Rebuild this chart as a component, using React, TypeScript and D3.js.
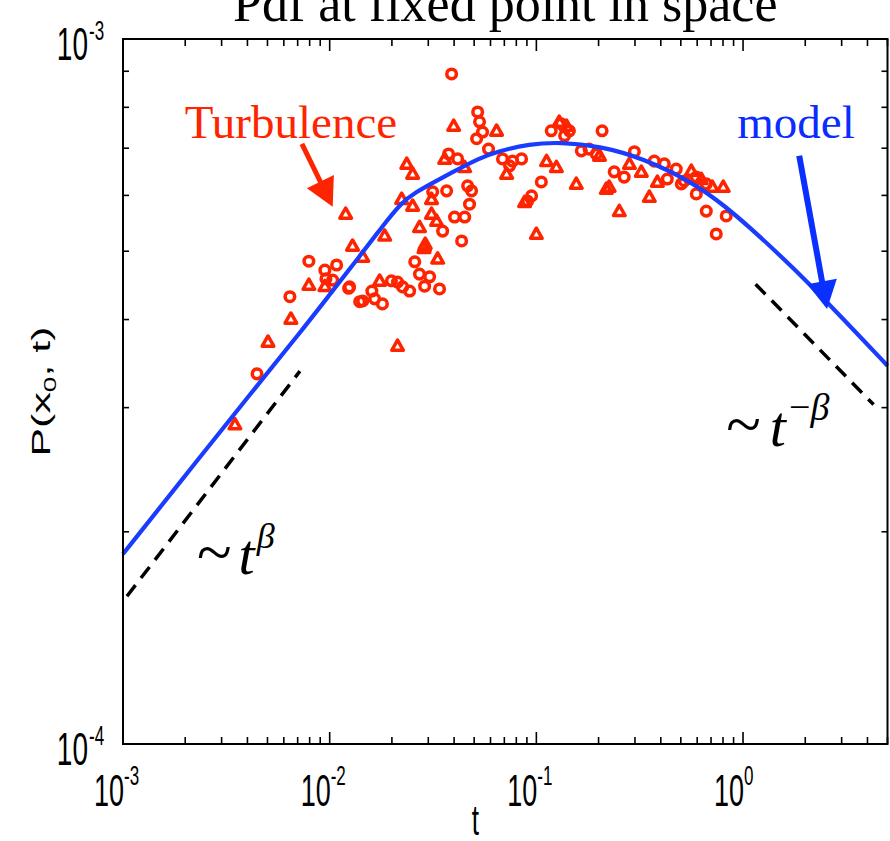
import React from 'react';
import * as d3 from 'd3';

const triangles: [number, number][] = [
  [3.48e-3, 2.84e-4], [5.03e-3, 3.72e-4], [6.49e-3, 4.01e-4], [7.93e-3, 4.48e-4],
  [9.48e-3, 4.46e-4], [1.195e-2, 5.65e-4], [1.29e-2, 5.09e-4], [1.445e-2, 4.91e-4],
  [1.845e-2, 5.26e-4], [2.36e-2, 6.65e-4], [2.52e-2, 6.44e-4], [2.23e-2, 5.93e-4],
  [2.52e-2, 5.80e-4], [2.72e-2, 5.41e-4], [2.88e-2, 5.09e-4], [2.86e-2, 5.05e-4],
  [2.9e-2, 5.12e-4], [3.33e-2, 4.88e-4], [3.11e-2, 5.93e-4], [3.11e-2, 5.65e-4],
  [3.29e-2, 5.52e-4], [3.60e-2, 6.76e-4], [3.98e-2, 7.53e-4], [4.50e-2, 6.58e-4],
  [1.745e-2, 4.54e-4], [2.13e-2, 3.67e-4], [6.42e-2, 7.41e-4], [7.18e-2, 6.44e-4],
  [0.112, 6.71e-4], [0.125, 6.58e-4], [0.156, 6.23e-4], [8.77e-2, 5.87e-4],
  [0.1, 5.29e-4], [0.129, 7.63e-4], [0.140, 7.53e-4], [0.202, 6.83e-4],
  [0.218, 6.13e-4], [0.282, 6.65e-4], [0.225, 6.17e-4], [0.322, 6.48e-4],
  [0.385, 6.27e-4], [0.352, 5.97e-4], [0.252, 5.70e-4], [0.562, 6.50e-4],
  [0.628, 6.33e-4], [0.710, 6.17e-4], [0.802, 6.17e-4],
];

const circles: [number, number][] = [
  [4.45e-3, 3.35e-4], [6.42e-3, 4.31e-4], [7.93e-3, 4.84e-4], [9.48e-3, 4.70e-4],
  [1.08e-2, 4.78e-4], [9.59e-3, 4.57e-4], [1.034e-2, 4.55e-4], [1.235e-2, 4.43e-4],
  [1.397e-2, 4.24e-4], [1.249e-2, 4.45e-4], [1.60e-2, 4.39e-4], [1.65e-2, 4.28e-4],
  [1.445e-2, 4.25e-4], [1.80e-2, 4.21e-4], [1.99e-2, 4.54e-4], [2.13e-2, 4.52e-4],
  [2.254e-2, 4.45e-4], [2.437e-2, 4.39e-4], [2.58e-2, 4.83e-4], [2.72e-2, 4.64e-4],
  [3.045e-2, 4.60e-4], [2.88e-2, 4.46e-4], [3.40e-2, 4.42e-4], [4.35e-2, 5.17e-4],
  [3.52e-2, 5.34e-4], [4.02e-2, 5.59e-4], [4.50e-2, 5.59e-4], [3.89e-2, 8.92e-4],
  [3.76e-2, 6.87e-4], [4.16e-2, 6.76e-4], [4.65e-2, 6.19e-4], [4.86e-2, 6.09e-4],
  [3.68e-2, 6.09e-4], [3.15e-2, 6.07e-4], [4.75e-2, 5.83e-4], [5.20e-2, 7.88e-4],
  [5.31e-2, 7.63e-4], [5.49e-2, 7.38e-4], [5.14e-2, 7.22e-4], [5.87e-2, 6.98e-4],
  [6.86e-2, 6.76e-4], [7.67e-2, 6.71e-4], [8.48e-2, 6.76e-4], [7.42e-2, 6.61e-4],
  [0.1057, 6.27e-4], [9.48e-2, 5.99e-4], [9.07e-2, 5.89e-4], [0.118, 7.41e-4],
  [0.132, 7.58e-4], [0.1445, 7.41e-4], [0.137, 7.29e-4], [0.165, 6.94e-4],
  [0.180, 6.98e-4], [0.195, 6.87e-4], [0.208, 7.41e-4], [0.298, 6.92e-4],
  [0.238, 6.48e-4], [0.266, 6.37e-4], [0.372, 6.71e-4], [0.416, 6.65e-4],
  [0.475, 6.54e-4], [0.430, 6.33e-4], [0.520, 6.29e-4], [0.594, 6.37e-4],
  [0.594, 6.03e-4], [0.664, 6.23e-4], [0.664, 5.70e-4], [0.829, 5.61e-4],
  [0.742, 5.29e-4], [0.503, 6.23e-4],
];

// model curve, sampled along the drawn line
const model: [number, number][] = [
  [1e-3, 1.86e-4], [2.35e-3, 2.55e-4], [4.11e-3, 3.13e-4], [7.18e-3, 3.83e-4],
  [1e-2, 4.34e-4], [1.397e-2, 4.92e-4], [1.745e-2, 5.36e-4], [2.23e-2, 5.87e-4],
  [2.63e-2, 6.07e-4], [3.15e-2, 6.25e-4], [3.80e-2, 6.44e-4], [5.31e-2, 6.78e-4],
  [6.42e-2, 6.92e-4], [9.27e-2, 7.10e-4], [0.131, 7.14e-4], [0.202, 7.05e-4],
  [0.326, 6.78e-4], [0.568, 6.27e-4], [0.829, 5.78e-4], [1.195, 5.26e-4],
  [1.73, 4.75e-4], [2.82, 4.11e-4], [5.0, 3.44e-4],
];

// power-law guide lines
const guideRise: [number, number][] = [[1.045e-3, 1.62e-4], [7.18e-3, 3.38e-4]];
const guideFall: [number, number][] = [[1.15, 4.49e-4], [4.28, 3.03e-4]];

// arrows: [tail, tip]
const turbArrow: [number, number][] = [[7.34e-3, 7.10e-4], [1.034e-2, 5.78e-4]];
const modelArrow: [number, number][] = [[1.87, 6.83e-4], [2.55, 4.14e-4]];

// label anchors
const turbLabelAt: [number, number] = [1.99e-3, 7.24e-4];
const modelLabelAt: [number, number] = [0.938, 7.24e-4];
const riseLabelAt: [number, number] = [2.28e-3, 1.742e-4];
const fallLabelAt: [number, number] = [0.829, 2.646e-4];

const xMajor = [1e-3, 1e-2, 1e-1, 1];
const xExp = ['-3', '-2', '-1', '0'];
const yMajor = [1e-4, 1e-3];
const yExp = ['-4', '-3'];

const RED = '#ff2400';
const BLUE = '#1a3cff';
const SANS = 'Liberation Sans, Arial, Helvetica, sans-serif';
const SERIF = 'Liberation Serif, Times New Roman, serif';
const STRETCH = 1.65;

function Arrow({ from, to, color, headLen, halfW, width }: any) {
  const dx = to[0] - from[0], dy = to[1] - from[1];
  const len = Math.hypot(dx, dy);
  const ux = dx / len, uy = dy / len;
  const bx = to[0] - ux * headLen, by = to[1] - uy * headLen;
  const head = [
    [to[0], to[1]],
    [bx - uy * halfW, by + ux * halfW],
    [bx + uy * halfW, by - ux * halfW],
  ];
  return (
    <g>
      <line x1={from[0]} y1={from[1]} x2={bx + ux * 2} y2={by + uy * 2} stroke={color} strokeWidth={width} />
      <polygon points={head.map(p => p.join(',')).join(' ')} fill={color} />
    </g>
  );
}

export default function App() {
  const W = 890, H = 841;
  const left = 123, right = 887.5, top = 39, bottom = 744;

  const x = d3.scaleLog().domain([1e-3, 5]).range([left, right]);
  const y = d3.scaleLog().domain([1e-4, 1e-3]).range([bottom, top]);

  const xMinor: number[] = [];
  xMajor.forEach(m => { for (let k = 2; k <= 9; k++) if (k * m <= 5) xMinor.push(k * m); });
  const yMinor: number[] = [];
  for (let k = 2; k <= 9; k++) yMinor.push(k * 1e-4);

  const line = d3.line<[number, number]>()
    .x(d => x(d[0]))
    .y(d => y(d[1]))
    .curve(d3.curveBasis);

  const straight = d3.line<[number, number]>()
    .x(d => x(d[0]))
    .y(d => y(d[1]));

  const px = (d: [number, number]) => [x(d[0]), y(d[1])];

  const triPath = 'M0,-5.8L5.8,4.4L-5.8,4.4Z';

  return (
    <svg width={W} height={H} style={{ position: 'absolute', left: 0, top: 0, background: '#fff' }}>
      <rect width={W} height={H} fill="#fff" />

      {/* title, cut off at the top */}
      <text x={(left + right) / 2} y={21} textAnchor="middle" fontFamily={SERIF} fontSize={52}>
        Pdf at fixed point in space
      </text>

      {/* markers */}
      <g fill="none" stroke={RED} strokeWidth={3.5}>
        {circles.map((d, i) => (
          <circle key={'c' + i} cx={x(d[0])} cy={y(d[1])} r={4.8} />
        ))}
        {triangles.map((d, i) => (
          <path key={'t' + i} d={triPath} transform={`translate(${x(d[0])},${y(d[1])})`} strokeLinejoin="round" />
        ))}
      </g>

      {/* model */}
      <path d={line(model) || ''} fill="none" stroke={BLUE} strokeWidth={4.2} />

      {/* guides */}
      <path d={straight(guideRise) || ''} fill="none" stroke="#000" strokeWidth={3.5} strokeDasharray="14 9" />
      <path d={straight(guideFall) || ''} fill="none" stroke="#000" strokeWidth={3.5} strokeDasharray="14 9" />

      {/* arrows + labels */}
      <Arrow from={px(turbArrow[0])} to={px(turbArrow[1])} color={RED} headLen={28} halfW={15} width={5} />
      <Arrow from={px(modelArrow[0])} to={px(modelArrow[1])} color={'#0a30ff'} headLen={28} halfW={15} width={6} />
      <text x={x(turbLabelAt[0])} y={y(turbLabelAt[1])} fontFamily={SERIF} fontSize={47} fill={RED}>Turbulence</text>
      <text x={x(modelLabelAt[0])} y={y(modelLabelAt[1])} fontFamily={SERIF} fontSize={47} fill={'#0a2cff'}>model</text>

      <text x={x(riseLabelAt[0])} y={y(riseLabelAt[1])} fontFamily={SERIF} fontSize={58}>
        <tspan fontSize={64}>~</tspan>
        <tspan dx={7} fontStyle="italic">t</tspan>
        <tspan dx={2} dy={-26} fontSize={36} fontStyle="italic">β</tspan>
      </text>
      <text x={x(fallLabelAt[0])} y={y(fallLabelAt[1])} fontFamily={SERIF} fontSize={58}>
        <tspan fontSize={64}>~</tspan>
        <tspan dx={9} fontStyle="italic">t</tspan>
        <tspan dx={3} dy={-26} fontSize={38}>−</tspan>
        <tspan fontSize={38} fontStyle="italic">β</tspan>
      </text>

      {/* axes box */}
      <rect x={left} y={top} width={right - left} height={bottom - top} fill="none" stroke="#000" strokeWidth={2} />
      <g stroke="#000" strokeWidth={1.6}>
        {xMajor.map(v => (
          <g key={'xM' + v}>
            <line x1={x(v)} x2={x(v)} y1={bottom} y2={bottom - 12} />
            <line x1={x(v)} x2={x(v)} y1={top} y2={top + 12} />
          </g>
        ))}
        {xMinor.map(v => (
          <g key={'xm' + v}>
            <line x1={x(v)} x2={x(v)} y1={bottom} y2={bottom - 7} />
            <line x1={x(v)} x2={x(v)} y1={top} y2={top + 7} />
          </g>
        ))}
        {yMinor.map(v => (
          <g key={'ym' + v}>
            <line x1={left} x2={left + 6} y1={y(v)} y2={y(v)} />
            <line x1={right} x2={right - 6} y1={y(v)} y2={y(v)} />
          </g>
        ))}
      </g>

      {/* x tick labels */}
      {xMajor.map((v, i) => (
        <g key={'xl' + v} transform={`translate(${x(v)},${bottom}) scale(1,${STRETCH})`} fontFamily={SANS}>
          <text x={1} y={37.5} fontSize={27} textAnchor="end">10</text>
          <text x={1} y={25} fontSize={17}>{xExp[i]}</text>
        </g>
      ))}
      {/* y tick labels */}
      {yMajor.map((v, i) => (
        <g key={'yl' + v} transform={`translate(${left - 35},${y(v)}) scale(1,${STRETCH})`} fontFamily={SANS}>
          <text x={0} y={13} fontSize={28} textAnchor="end">10</text>
          <text x={1} y={0.5} fontSize={17}>{yExp[i]}</text>
        </g>
      ))}

      {/* axis titles */}
      <g transform={`translate(${(left + right) / 2 - 30},${H - 6}) scale(1,${STRETCH})`}>
        <text x={0} y={0} fontFamily={SANS} fontSize={26} textAnchor="middle">t</text>
      </g>
      <g transform={`translate(50,${(top + bottom) / 2}) rotate(-90) scale(${STRETCH},1)`}>
        <text x={0} y={0} fontFamily={SANS} fontSize={26} textAnchor="middle">
          P(x<tspan fontSize={17} dy={6}>0</tspan><tspan dy={-6}>, t)</tspan>
        </text>
      </g>
    </svg>
  );
}
